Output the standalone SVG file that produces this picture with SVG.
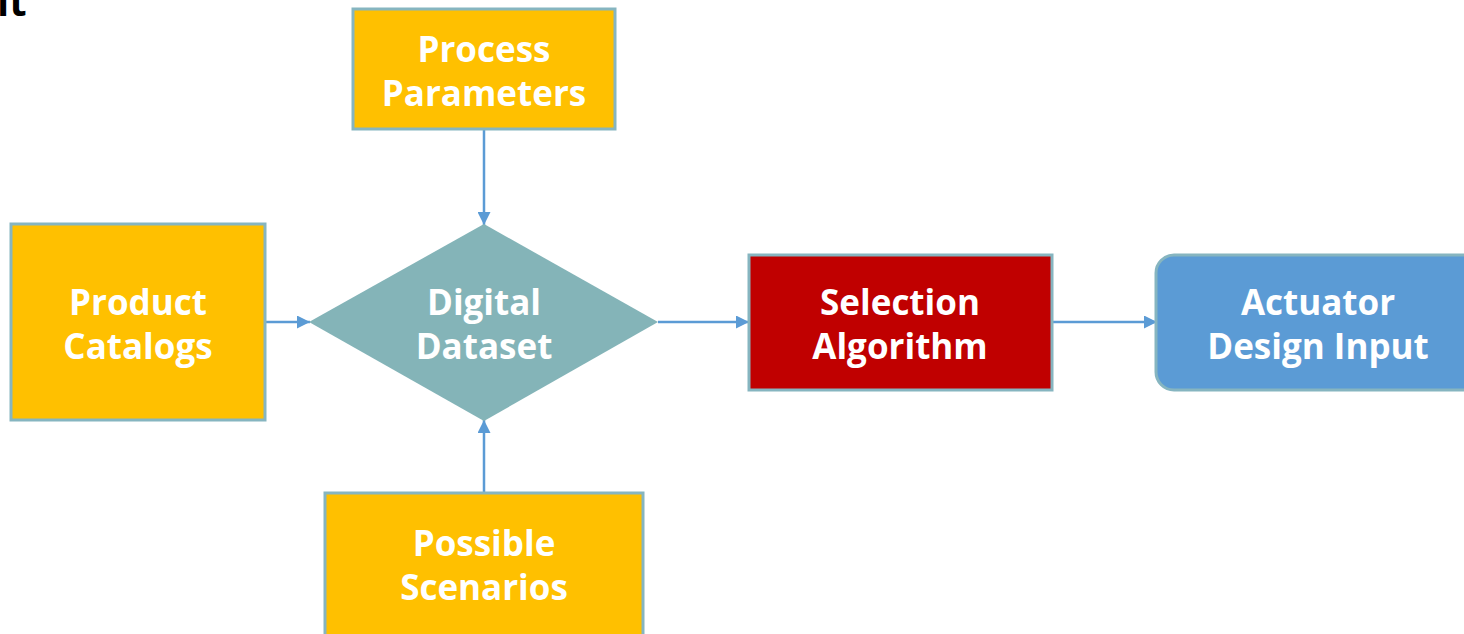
<svg xmlns="http://www.w3.org/2000/svg" width="1464" height="634" viewBox="0 0 1464 634">
  <style>
    .box { stroke: #86B5C0; stroke-width: 3; }
    .amber { fill: #FFC000; }
    .red { fill: #C00000; }
    .blue { fill: #5B9BD5; }
    .teal { fill: #84B4B8; }
    .label { font-family: "Open Sans", "Noto Sans", "Liberation Sans", sans-serif; font-weight: 700; font-size: 35px; fill: #FFFFFF; text-anchor: middle; }
    .edge { stroke: #5B9BD5; stroke-width: 2.5; fill: none; marker-end: url(#arrow); }
  </style>
  <defs>
    <marker id="arrow" viewBox="0 0 10 10" refX="10" refY="5" markerWidth="15" markerHeight="13" markerUnits="userSpaceOnUse" orient="auto">
      <path d="M0,0 L10,5 L0,10 z" fill="#5B9BD5"/>
    </marker>
  </defs>
  <rect width="1464" height="634" fill="#FFFFFF"/>

  <!-- heading fragment, clipped by the top edge -->
  <text x="-3" y="16" font-family="Open Sans, Noto Sans, sans-serif" font-weight="700" font-size="40" fill="#000000">it</text>

  <g id="connectors">
    <line class="edge" x1="265" y1="322" x2="310" y2="322"/>
    <line class="edge" x1="484" y1="130" x2="484" y2="225"/>
    <line class="edge" x1="484" y1="496" x2="484" y2="420"/>
    <line class="edge" x1="658" y1="322" x2="749" y2="322"/>
    <line class="edge" x1="1053" y1="322" x2="1157" y2="322"/>
  </g>

  <g id="process-parameters">
    <rect class="box amber" x="353" y="9" width="262" height="120"/>
    <text class="label" x="484" y="62">Process</text>
    <text class="label" x="484" y="106">Parameters</text>
  </g>

  <g id="product-catalogs">
    <rect class="box amber" x="11" y="224" width="254" height="196"/>
    <text class="label" x="138" y="315">Product</text>
    <text class="label" x="138" y="359">Catalogs</text>
  </g>

  <g id="digital-dataset">
    <polygon class="teal" points="309,322 484,224 658,322 484,421"/>
    <text class="label" x="484" y="315">Digital</text>
    <text class="label" x="484" y="359">Dataset</text>
  </g>

  <g id="selection-algorithm">
    <rect class="box red" x="749" y="255" width="303" height="135"/>
    <text class="label" x="900" y="315">Selection</text>
    <text class="label" x="900" y="359">Algorithm</text>
  </g>

  <g id="actuator-design-input">
    <rect class="box blue" x="1156" y="255" width="330" height="135" rx="18" ry="18"/>
    <text class="label" x="1318" y="315">Actuator</text>
    <text class="label" x="1318" y="359">Design Input</text>
  </g>

  <g id="possible-scenarios">
    <rect class="box amber" x="325" y="493" width="318" height="160"/>
    <text class="label" x="484" y="556">Possible</text>
    <text class="label" x="484" y="600">Scenarios</text>
  </g>
</svg>
